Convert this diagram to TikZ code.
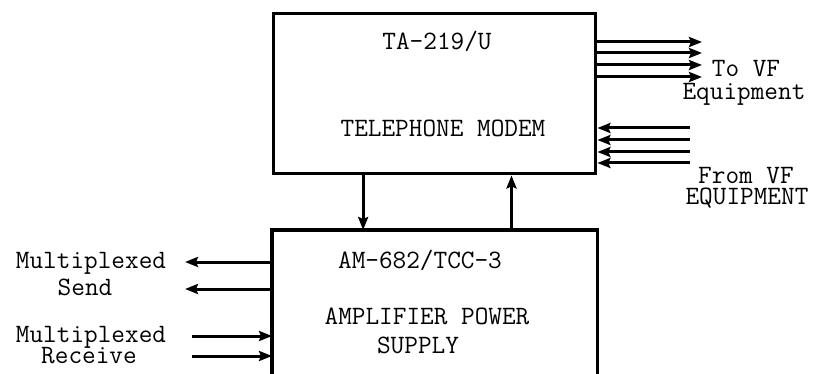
\documentclass[tikz,border=0pt]{standalone}
\usepackage{fontspec}
\usepackage{tikz}
\usetikzlibrary{arrows.meta, positioning, calc}

\begin{document}
\begin{tikzpicture}[x=1pt, y=-1pt,
        box/.style={rectangle, draw, line width=3.4pt, anchor=north west, inner sep=0pt, minimum width=322pt, minimum height=160pt},
        txt/.style={inner sep=0pt, text height=15pt, text depth=4pt, font=\ttfamily\fontsize{26.5}{28}\selectfont},
        line/.style={draw, line width=3pt, -{Stealth[length=13pt, width=10pt, inset=2pt]}}]
        \useasboundingbox (0,0) rectangle (813,374);

        % Blocks
        \node [box] (modem) at (272,12) {};
        \node [box, draw=none, minimum height=150pt] (amp) at (272,230) {};
        \draw [line width=3.4pt] (amp.south west) -- (amp.north west) -- (amp.north east) -- (amp.south east);

        % Block texts
        \node [txt] (modemid) at (437,44) {TA-219/U};
        \node [txt] (modemname) at (443,131) {TELEPHONE MODEM};
        \node [txt] (ampid) at (420,263) {AM-682/TCC-3};
        \node [txt] (ampname) at (427,319) {AMPLIFIER POWER};
        \node [txt] (ampname2) at (418,348) {SUPPLY};

        % Side labels
        \node [txt] (toVF) at (746,71) {To VF};
        \node [txt] (toVF2) at (744,94) {Equipment};
        \node [txt] (fromVF) at (746,178) {From VF};
        \node [txt] (fromVF2) at (747,199) {EQUIPMENT};
        \node [txt] (send) at (91,263) {Multiplexed};
        \node [txt] (send2) at (85,290) {Send};
        \node [txt] (recv) at (91,337) {Multiplexed};
        \node [txt] (recv2) at (89,358) {Receive};

        % Free ends
        \coordinate (outend) at (702,0);
        \coordinate (instart) at (690,0);
        \coordinate (sendend) at (185,0);
        \coordinate (recvstart) at (192,0);
        \coordinate (dn) at ($(modem.south west)!0.28!(modem.south east)$);
        \coordinate (up) at ($(amp.north west)!0.736!(amp.north east)$);

        % Arrows
        \path [line] (dn) -- (dn |- amp.north);
        \path [line] (up) -- (up |- modem.south);
        \foreach \y in {42,53,65,77}
            \path [line] (modem.east |- 0,\y) -- (outend |- 0,\y);
        \foreach \y in {128,140,152,163}
            \path [line] (instart |- 0,\y) -- (modem.east |- 0,\y);
        \foreach \y in {262,289}
            \path [line] (amp.west |- 0,\y) -- (sendend |- 0,\y);
        \foreach \y in {336,356}
            \path [line] (recvstart |- 0,\y) -- (amp.west |- 0,\y);
    \end{tikzpicture}
\end{document}
